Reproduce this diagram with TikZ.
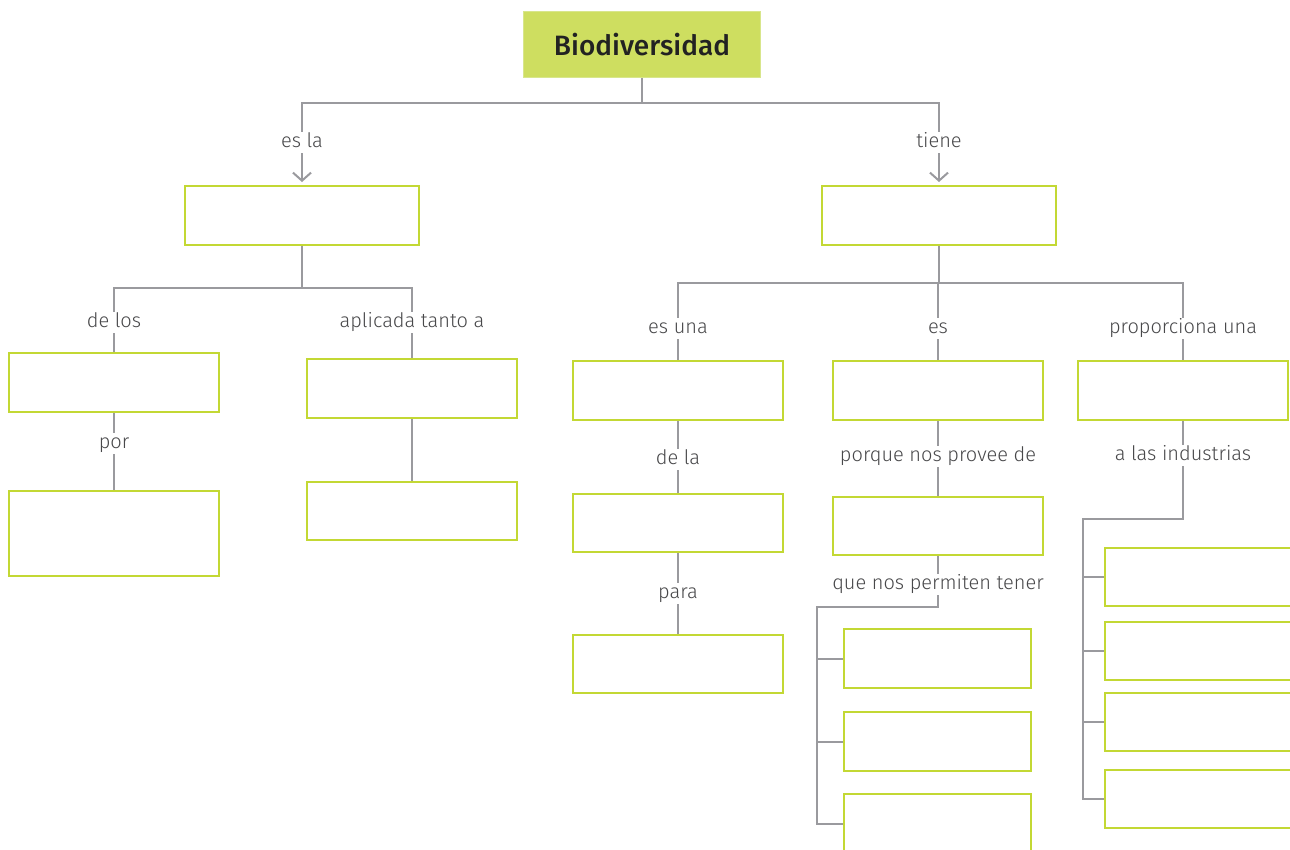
\documentclass[tikz,border=0pt]{standalone}
\usepackage{fontspec}
\setmainfont{Fira Sans}
\IfFontExistsTF{Fira Sans Medium}
  {\newfontfamily\titlefont{Fira Sans Medium}}
  {\newfontfamily\titlefont{Fira Sans}[UprightFeatures={FakeBold=1.5}]}
\IfFontExistsTF{Fira Sans Light}
  {\newfontfamily\labelfont{Fira Sans Light}}
  {\newfontfamily\labelfont{Fira Sans}}
\usetikzlibrary{
  arrows.meta,
  positioning
}
\definecolor{limefill}{RGB}{206,222,96}
\definecolor{limeedge}{RGB}{216,230,140}
\definecolor{limeline}{RGB}{195,216,52}
\definecolor{linkgray}{RGB}{154,154,158}
\definecolor{labelgray}{RGB}{72,72,74}
\definecolor{titleink}{RGB}{34,34,34}

\begin{document}
\begin{tikzpicture}[x=1pt, y=-1pt,
  topbox/.style={draw=limeedge, line width=1pt, fill=limefill, inner sep=0pt,
    minimum width=237pt, minimum height=66pt, anchor=north west,
    font=\titlefont\fontsize{28}{32}\selectfont, text=titleink},
  box/.style={draw=limeline, line width=2pt, fill=white, inner sep=0pt,
    minimum width=210pt, minimum height=59pt, anchor=north west},
  link/.style={draw=linkgray, line width=2pt},
  tip/.style={-{Straight Barb[length=8pt, width=18pt, line width=2pt]}, shorten >=3pt},
  lbl/.style={fill=white, text=labelgray, inner sep=2pt,
    text height=14pt, text depth=3pt,
    font=\labelfont\fontsize{20}{22}\selectfont}]
  \useasboundingbox (0,0) rectangle (1290,849);
  \clip (0,0) rectangle (1290,849);
  \fill[white] (0,0) rectangle (1290,849);

  % boxes
  \node[topbox] (bio) at (523,11) {Biodiversidad};
  \node[box, minimum width=234pt] (defn) at (184,185) {};
  \node[box, minimum width=234pt] (feat) at (821,185) {};
  \node[box] (a1) at (8,352) {};
  \node[box] (a2) at (306,358) {};
  \node[box, minimum height=85pt] (a3) at (8,490) {};
  \node[box, minimum height=58pt] (a4) at (306,481) {};
  \node[box] (b1) at (572,360) {};
  \node[box] (b2) at (832,360) {};
  \node[box] (b3) at (1077,360) {};
  \node[box, minimum height=58pt] (b4) at (572,493) {};
  \node[box, minimum height=58pt] (b5) at (572,634) {};
  \node[box, minimum height=58pt] (b6) at (832,496) {};
  \foreach \name/\y in {c1/628, c2/711, c3/793}
    \node[box, minimum width=187pt] (\name) at (843,\y) {};
  \foreach \name/\y in {d1/547, d2/621, d3/692, d4/769}
    \node[box, minimum height=58pt] (\name) at (1104,\y) {};

  % junctions
  \coordinate (jtop) at (bio.south |- 0,103);
  \coordinate (jdefn) at (defn.south |- 0,288);
  \coordinate (jfeat) at (feat.south |- 0,283);
  \coordinate (jb6) at (b6.south |- 0,607);
  \coordinate (spb6) at (817,607);
  \coordinate (jb3) at (b3.south |- 0,519);
  \coordinate (spb3) at (1083,519);

  % connectors
  \draw[link] (bio.south) -- (jtop);
  \draw[link, tip] (jtop) -| (defn.north);
  \draw[link, tip] (jtop) -| (feat.north);
  \draw[link] (defn.south) -- (jdefn);
  \draw[link] (jdefn) -| (a1.north);
  \draw[link] (jdefn) -| (a2.north);
  \draw[link] (a1.south) -- (a3.north);
  \draw[link] (a2.south) -- (a4.north);
  \draw[link] (feat.south) -- (jfeat);
  \draw[link] (jfeat) -| (b1.north);
  \draw[link] (jfeat) -| (b2.north);
  \draw[link] (jfeat) -| (b3.north);
  \draw[link] (b1.south) -- (b4.north);
  \draw[link] (b4.south) -- (b5.north);
  \draw[link] (b2.south) -- (b6.north);
  \draw[link] (b6.south) -- (jb6) -- (spb6) |- (c3.west);
  \foreach \name in {c1, c2}
    \draw[link] (spb6 |- \name.west) -- (\name.west);
  \draw[link] (b3.south) -- (jb3) -- (spb3) |- (d4.west);
  \foreach \name in {d1, d2, d3}
    \draw[link] (spb3 |- \name.west) -- (\name.west);

  % labels
  \node[lbl] (lesla) at (defn.north |- 0,142) {es la};
  \node[lbl] (ltiene) at (feat.north |- 0,142) {tiene};
  \node[lbl] (ldelos) at (a1.north |- 0,322) {de los};
  \node[lbl] (laplicada) at (a2.north |- 0,322) {aplicada tanto a};
  \node[lbl] (lpor) at (a1.south |- 0,443) {por};
  \node[lbl] (lesuna) at (b1.north |- 0,328) {es una};
  \node[lbl] (les) at (b2.north |- 0,328) {es};
  \node[lbl] (lproporciona) at (b3.north |- 0,328) {proporciona una};
  \node[lbl] (ldela) at (b1.south |- 0,459) {de la};
  \node[lbl] (lpara) at (b4.south |- 0,593) {para};
  \node[lbl] (lporque) at (b2.south |- 0,456) {porque nos provee de};
  \node[lbl] (lque) at (b6.south |- 0,584) {que nos permiten tener};
  \node[lbl] (lindustrias) at (b3.south |- 0,455) {a las industrias};
\end{tikzpicture}
\end{document}
